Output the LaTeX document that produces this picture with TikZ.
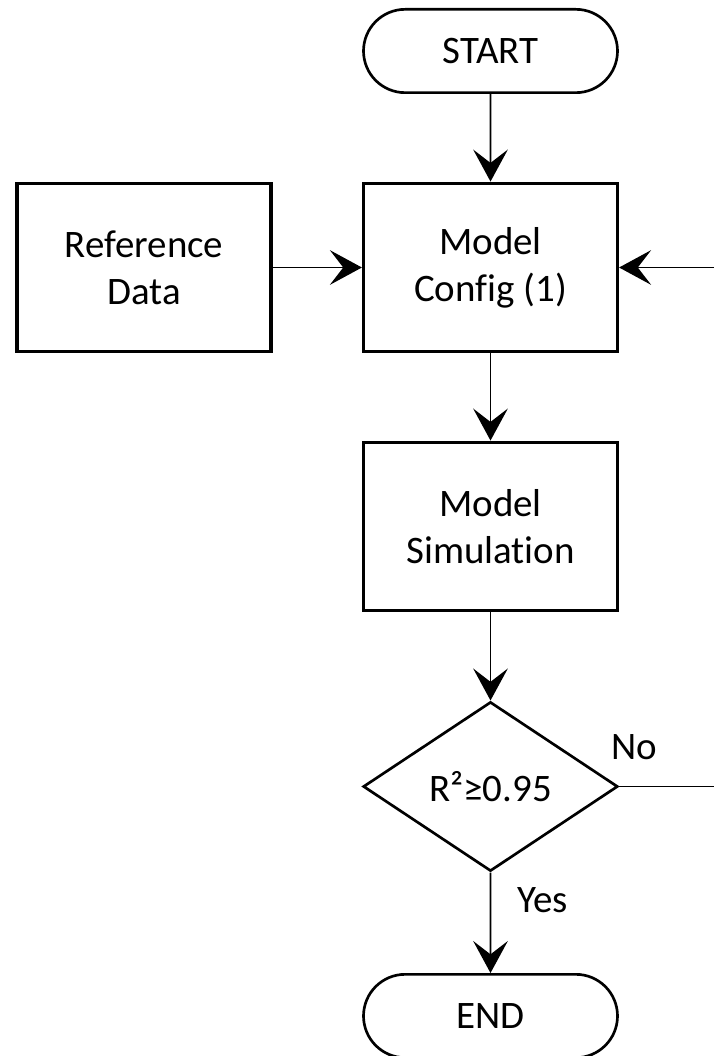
\documentclass[tikz,border=0pt]{standalone}
\usepackage{fontspec}
\setmainfont{Carlito}[Ligatures=CommonOff]
\usetikzlibrary{arrows.meta, shapes.geometric, shapes.misc}

\begin{document}
\begin{tikzpicture}[x=0.75pt, y=-0.75pt,
  font=\fontsize{29.2pt}{35.3pt}\selectfont,
  box/.style={draw, line width=2.4pt, minimum width=190.5pt, minimum height=126.5pt, align=center, inner sep=0pt},
  terminal/.style={draw, rounded rectangle, line width=2pt, minimum width=190.5pt, minimum height=62.5pt, inner sep=0pt},
  decision/.style={draw, diamond, line width=2pt, minimum width=191pt, minimum height=127pt, inner sep=0pt},
  flow/.style={line width=1.2pt, -{Stealth[length=24pt, width=26pt, inset=10pt]}},
  plain/.style={line width=1.2pt}]

  \useasboundingbox (0, 0) rectangle (714, 1056);
  \clip (0, 0) rectangle (714, 1056);

  % blocks
  \node[terminal] (start) at (490.5, 51) {START};
  \node[box] (refdata) at (144, 267.5) {Reference\\Data};
  \node[box] (config) at (490.5, 267.5) {Model\\Config (1)};
  \node[box] (sim) at (490.5, 526.5) {Model\\Simulation};
  \node[decision] (check) at (490.5, 786.5) {R²≥0.95};
  \node[terminal] (stop) at (490.5, 1016) {END};

  % loop ends at the right edge
  \coordinate (noend) at (714, 786.5);
  \coordinate (loopin) at (714, 267.5);

  \draw[flow] (start) -- (config);
  \draw[flow] (refdata) -- (config);
  \draw[flow] (loopin) -- (config);
  \draw[flow] (config) -- (sim);
  \draw[flow] (sim) -- (check);
  \draw[plain] (check.east) -- (noend);
  \draw[flow] (check) -- (stop);

  \node (lblno) at (634, 747.5) {No};
  \node (lblyes) at (542.5, 900) {Yes};

\end{tikzpicture}
\end{document}
